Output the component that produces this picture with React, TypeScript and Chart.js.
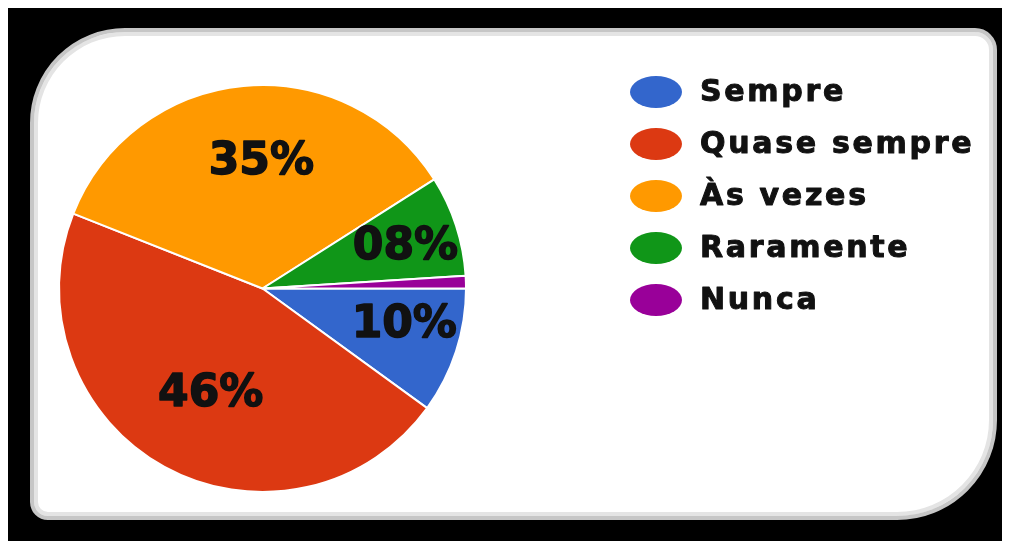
import React, { useEffect, useRef } from "react";
import { Chart, registerables } from "chart.js";

Chart.register(...registerables);

const labels = ["Sempre", "Quase sempre", "Às vezes", "Raramente", "Nunca"];
const values = [10, 46, 35, 8, 1];
const valueLabels = ["10%", "46%", "35%", "08%", ""];
const colors = ["#3366CC", "#DC3912", "#FF9900", "#109618", "#990099"];

const labelRadiusFrac = [0.72, 0.58, 0.62, 0.73, 0];
const labelAngleShift = [-3.4, -2.8, 4.9, 2.2, 0];

const FONT = "'DejaVu Sans', sans-serif";

const sliceLabelPlugin = {
  id: "sliceLabels",
  afterDatasetsDraw(chart: any) {
    const ctx = chart.ctx;
    const meta = chart.getDatasetMeta(0);
    ctx.save();
    ctx.font = `bold 44px ${FONT}`;
    ctx.fillStyle = "#111111";
    ctx.strokeStyle = "#111111";
    ctx.lineWidth = 1.5;
    ctx.lineJoin = "round";
    ctx.textAlign = "center";
    ctx.textBaseline = "middle";
    meta.data.forEach((arc: any, i: number) => {
      const txt = valueLabels[i];
      if (!txt) return;
      const p = arc.getProps(["x", "y", "startAngle", "endAngle", "outerRadius"], true);
      const mid = (p.startAngle + p.endAngle) / 2 + (labelAngleShift[i] * Math.PI) / 180;
      const r = p.outerRadius * labelRadiusFrac[i];
      const x = p.x + Math.cos(mid) * r;
      const y = p.y + Math.sin(mid) * r;
      ctx.strokeText(txt, x, y);
      ctx.fillText(txt, x, y);
    });
    ctx.restore();
  },
};

const legendPlugin = {
  id: "customLegend",
  afterDraw(chart: any) {
    const ctx = chart.ctx;
    ctx.save();
    const startY = 84;
    const step = 52;
    labels.forEach((lab, i) => {
      const y = startY + i * step;
      ctx.beginPath();
      ctx.ellipse(648, y, 26, 16, 0, 0, Math.PI * 2);
      ctx.fillStyle = colors[i];
      ctx.fill();
      ctx.font = `bold 30px ${FONT}`;
      (ctx as any).letterSpacing = "2.7px";
      ctx.fillStyle = "#111111";
      ctx.strokeStyle = "#111111";
      ctx.lineWidth = 1;
      ctx.lineJoin = "round";
      ctx.textAlign = "left";
      ctx.textBaseline = "middle";
      ctx.strokeText(lab, 692, y + 1);
      ctx.fillText(lab, 692, y + 1);
    });
    ctx.restore();
  },
};

export default function App() {
  const ref = useRef<HTMLCanvasElement>(null);
  useEffect(() => {
    if (!ref.current) return;
    const chart = new Chart(ref.current, {
      type: "pie",
      data: {
        labels,
        datasets: [
          {
            data: values,
            backgroundColor: colors,
            borderColor: "#ffffff",
            borderWidth: 2,
          },
        ],
      },
      options: {
        animation: false,
        responsive: false,
        maintainAspectRatio: false,
        rotation: 90,
        layout: { padding: { left: 50, top: 76, right: 543, bottom: 48 } },
        plugins: {
          legend: { display: false },
          tooltip: { enabled: false },
        },
      },
      plugins: [sliceLabelPlugin, legendPlugin],
    });
    return () => chart.destroy();
  }, []);

  return (
    <div
      style={{
        position: "relative",
        width: 1002,
        height: 533,
        background: "#000",
        overflow: "hidden",
      }}
    >
      <div
        style={{
          position: "absolute",
          left: 22,
          top: 20,
          width: 967,
          height: 492,
          boxSizing: "border-box",
          background: "#fff",
          border: "4px solid #c6c6c6",
          boxShadow: "inset 0 0 0 4px #e4e4e4",
          borderRadius: "95px 22px 100px 18px",
        }}
      />
      <canvas
        ref={ref}
        width={1002}
        height={533}
        style={{ position: "absolute", left: 0, top: 0, width: 1002, height: 533 }}
      />
    </div>
  );
}
